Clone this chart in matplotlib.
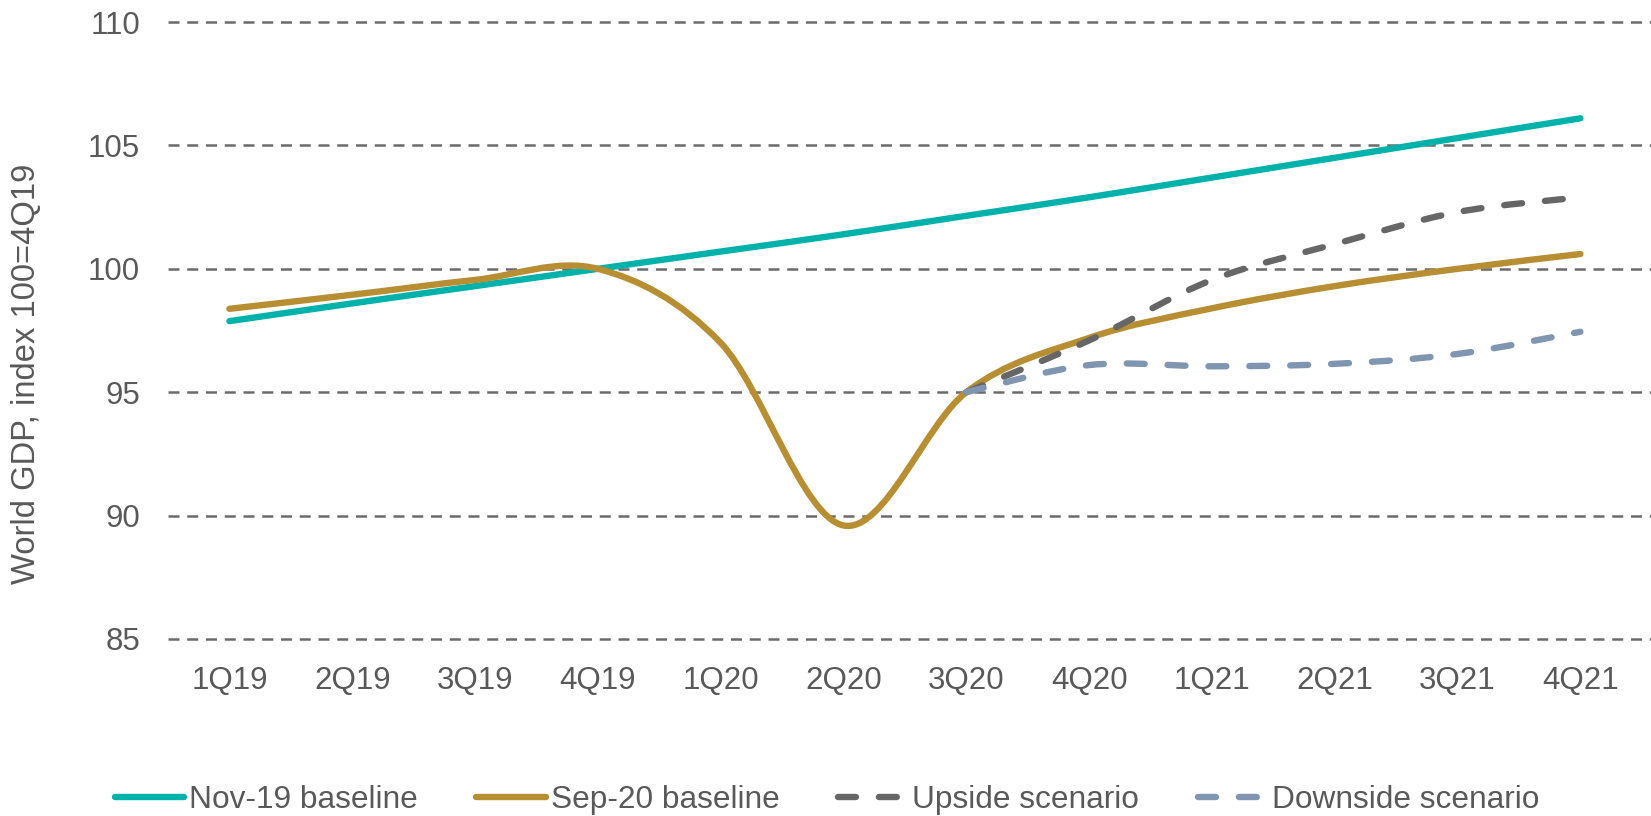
import matplotlib
matplotlib.use("Agg")
import matplotlib.pyplot as plt
from matplotlib.path import Path
from matplotlib.patches import PathPatch
from matplotlib.lines import Line2D

quarters = ['1Q19', '2Q19', '3Q19', '4Q19', '1Q20', '2Q20', '3Q20', '4Q20',
            '1Q21', '2Q21', '3Q21', '4Q21']
nov19 = [97.88, 98.6, 99.3, 100.0, 100.7, 101.4, 102.15, 102.9, 103.7, 104.5, 105.3, 106.1]
sep20 = [98.38, 98.95, 99.55, 100.0, 97.0, 89.6, 95.0, 97.2, 98.4, 99.3, 100.0, 100.6]
upside = [95.0, 97.1, 99.55, 101.0, 102.3, 102.9]      # 3Q20 .. 4Q21
downside = [95.0, 96.1, 96.05, 96.15, 96.55, 97.45]    # 3Q20 .. 4Q21
scen_start = 6

plt.rcParams['font.family'] = ['Liberation Sans', 'DejaVu Sans']
txt = '#595959'


def smooth_path(xs, ys):
    # excel style smoothed line: bezier through the points
    pts = list(zip(xs, ys))
    verts = [pts[0]]
    codes = [Path.MOVETO]
    n = len(pts)
    for i in range(n - 1):
        p0 = pts[i - 1] if i > 0 else pts[i]
        p1 = pts[i]
        p2 = pts[i + 1]
        p3 = pts[i + 2] if i + 2 < n else pts[i + 1]
        c1 = (p1[0] + (p2[0] - p0[0]) / 6, p1[1] + (p2[1] - p0[1]) / 6)
        c2 = (p2[0] - (p3[0] - p1[0]) / 6, p2[1] - (p3[1] - p1[1]) / 6)
        verts += [c1, c2, p2]
        codes += [Path.CURVE4] * 3
    return Path(verts, codes)


fig = plt.figure(figsize=(16.51, 8.16), dpi=100)
ax = fig.add_axes([168 / 1651, 0.2109, 1 - 168 / 1651, 0.7681])

dash = (0, (2.8, 3.6))
series = [
    ('Nov-19 baseline', list(range(12)), nov19, '#00B2AA', '-'),
    ('Sep-20 baseline', list(range(12)), sep20, '#B88E33', '-'),
    ('Upside scenario', list(range(scen_start, 12)), upside, '#666666', dash),
    ('Downside scenario', list(range(scen_start, 12)), downside, '#8096B0', dash),
]
handles = []
for z, (name, xs, ys, col, ls) in enumerate(series):
    patch = PathPatch(smooth_path(xs, ys), fill=False, edgecolor=col, lw=4.6,
                      linestyle=ls, capstyle='round', joinstyle='round', zorder=3 + z)
    ax.add_patch(patch)
    handles.append(Line2D([], [], color=col, lw=4.6, linestyle=ls,
                          dash_capstyle='round', solid_capstyle='round'))

ax.set_xlim(-0.5, 11.575)
ax.set_ylim(84.8, 110.2)
ax.set_xticks(range(12))
ax.set_xticklabels(quarters)
ax.set_yticks(range(85, 111, 5))
for s in ax.spines.values():
    s.set_visible(False)
ax.tick_params(axis='both', length=0, labelsize=22.5, labelcolor=txt)
ax.tick_params(axis='y', pad=20)
ax.tick_params(axis='x', pad=16)
ax.yaxis.grid(True, color='#6B6B6B', lw=1.8, linestyle=(0, (4.4, 3.1)))
ax.set_axisbelow(True)

fig.text(27 / 1651, 0.542, 'World GDP, index 100=4Q19', rotation=90,
         ha='center', va='center', fontsize=23.6, color=txt)

fig.legend(handles, [s[0] for s in series], loc='center', bbox_to_anchor=(0.501, 0.02),
           ncol=4, frameon=False, fontsize=22.8, labelcolor=txt,
           handlelength=2.2, handletextpad=0.15, columnspacing=1.85)

fig.savefig('out.png', dpi=100)
